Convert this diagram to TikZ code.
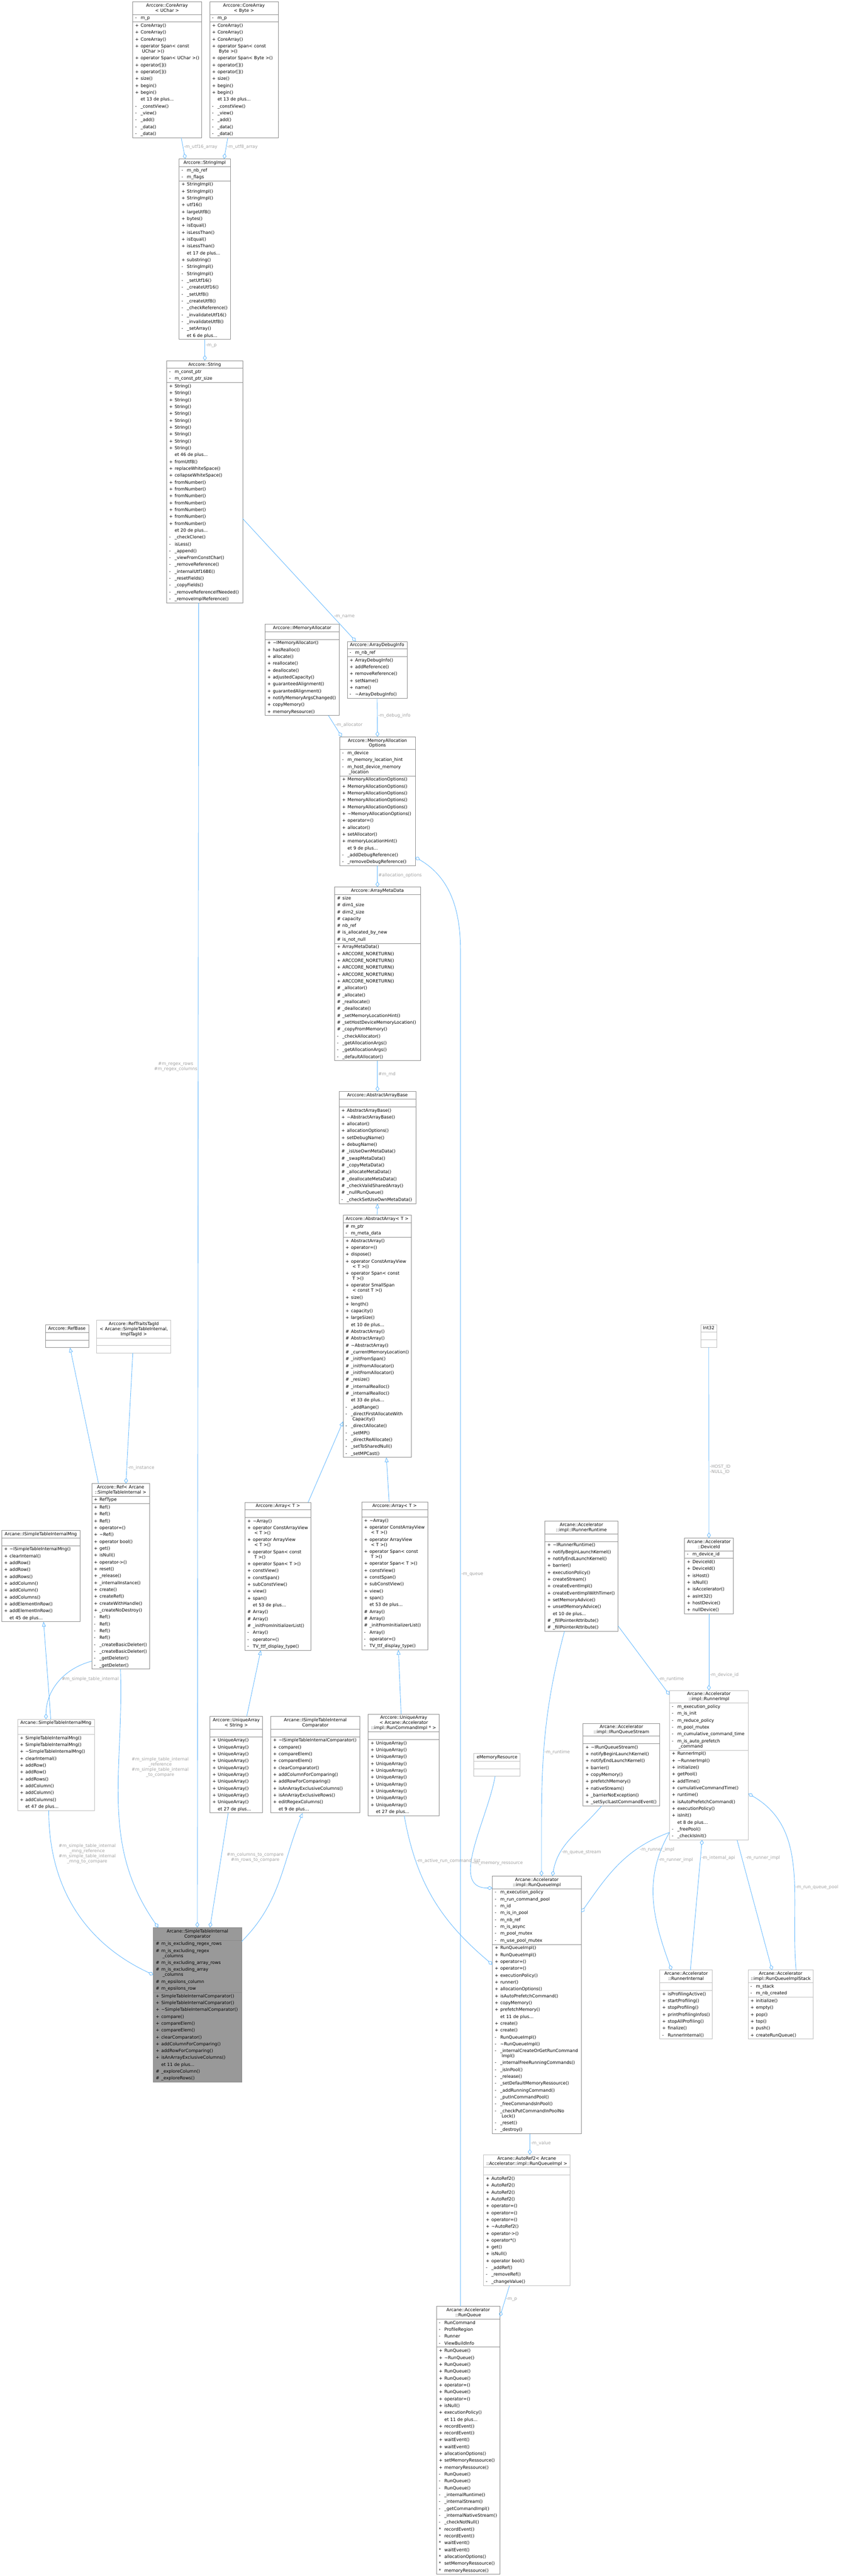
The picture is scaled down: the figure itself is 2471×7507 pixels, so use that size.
\documentclass[tikz,border=0pt]{standalone}
\usepackage{fontspec}
\setmainfont{DejaVu Sans}
\usetikzlibrary{positioning,fit,arrows.meta}
\definecolor{boxgray}{HTML}{8C8C8C}
\definecolor{boxlight}{HTML}{BFBFBF}
\definecolor{mainfill}{HTML}{999999}
\definecolor{edgeblue}{HTML}{63B8FF}
\definecolor{labelgray}{HTML}{A0A0A0}
\setlength{\parindent}{0pt}

\begin{document}
\catcode`\_=12
\begin{tikzpicture}[x=1pt,y=-1pt]
  \tikzset{
      box/.style={draw=boxgray,line width=1pt,text width=#1pt,inner xsep=0pt,
        inner ysep=1pt,outer sep=0pt,font=\fontsize{12.8}{20}\selectfont},
      dark/.style={},
      light/.style={draw=boxlight},
      main/.style={fill=mainfill},
      has/.style={draw=edgeblue,line width=1.3pt,-{Diamond[open,length=16pt,width=11pt]}},
      isa/.style={draw=edgeblue,line width=1.3pt,-{Triangle[open,length=14pt,width=11pt]}},
      lbl/.style={text=labelgray,font=\fontsize{12.8}{15}\selectfont,inner sep=2pt,align=center},
  }
  \def\Tl#1{\strut#1}
  \def\V#1#2{\makebox[23pt][l]{\hspace{7pt}#1}#2\strut}
  \def\Pub#1{\V{+}{#1}}
  \def\Pri#1{\V{-}{#1}}
  \def\Pro#1{\V{\#}{#1}}
  \def\Rel#1{\V{*}{#1}}
  \def\More#1{\V{}{#1}}
  \def\Cont#1{\hspace*{27pt}#1\strut}
  \def\umlbox#1#2#3#4#5#6#7#8{%
    \node[box=#4,#5,align=center,anchor=north west] (#1-t) at (#2,#3) {#6};
    \node[box=#4,#5,align=left,below=0pt of #1-t] (#1-a) {#7};
    \node[box=#4,#5,align=left,below=0pt of #1-a] (#1-m) {#8};
    \node[fit=(#1-t)(#1-m),inner sep=0pt,outer sep=0pt] (#1) {};}

  \useasboundingbox (0,0) rectangle (2471,7507);

  % string part
  \umlbox{coreU}{387}{5}{200}{dark}
    {\Tl{Arccore::CoreArray}\\[-5pt]\Tl{< UChar >}}
    {\Pri{m_p}}
    {\Pub{CoreArray()}\\\Pub{CoreArray()}\\\Pub{CoreArray()}\\\Pub{operator Span< const}\\[-5pt]\Cont{UChar >()}\\\Pub{operator Span< UChar >()}\\\Pub{operator[]()}\\\Pub{operator[]()}\\\Pub{size()}\\\Pub{begin()}\\\Pub{begin()}\\\More{et 13 de plus...}\\\Pri{_constView()}\\\Pri{_view()}\\\Pri{_add()}\\\Pri{_data()}\\\Pri{_data()}}
  \umlbox{coreB}{611}{5}{200}{dark}
    {\Tl{Arccore::CoreArray}\\[-5pt]\Tl{< Byte >}}
    {\Pri{m_p}}
    {\Pub{CoreArray()}\\\Pub{CoreArray()}\\\Pub{CoreArray()}\\\Pub{operator Span< const}\\[-5pt]\Cont{Byte >()}\\\Pub{operator Span< Byte >()}\\\Pub{operator[]()}\\\Pub{operator[]()}\\\Pub{size()}\\\Pub{begin()}\\\Pub{begin()}\\\More{et 13 de plus...}\\\Pri{_constView()}\\\Pri{_view()}\\\Pri{_add()}\\\Pri{_data()}\\\Pri{_data()}}
  \umlbox{strimpl}{522}{463}{149}{dark}
    {\Tl{Arccore::StringImpl}}
    {\Pri{m_nb_ref}\\\Pri{m_flags}}
    {\Pub{StringImpl()}\\\Pub{StringImpl()}\\\Pub{StringImpl()}\\\Pub{utf16()}\\\Pub{largeUtf8()}\\\Pub{bytes()}\\\Pub{isEqual()}\\\Pub{isLessThan()}\\\Pub{isEqual()}\\\Pub{isLessThan()}\\\More{et 17 de plus...}\\\Pub{substring()}\\\Pri{StringImpl()}\\\Pri{StringImpl()}\\\Pri{_setUtf16()}\\\Pri{_createUtf16()}\\\Pri{_setUtf8()}\\\Pri{_createUtf8()}\\\Pri{_checkReference()}\\\Pri{_invalidateUtf16()}\\\Pri{_invalidateUtf8()}\\\Pri{_setArray()}\\\More{et 6 de plus...}}
  \umlbox{string}{486}{1051}{221}{dark}
    {\Tl{Arccore::String}}
    {\Pri{m_const_ptr}\\\Pri{m_const_ptr_size}}
    {\Pub{String()}\\\Pub{String()}\\\Pub{String()}\\\Pub{String()}\\\Pub{String()}\\\Pub{String()}\\\Pub{String()}\\\Pub{String()}\\\Pub{String()}\\\Pub{String()}\\\More{et 46 de plus...}\\\Pub{fromUtf8()}\\\Pub{replaceWhiteSpace()}\\\Pub{collapseWhiteSpace()}\\\Pub{fromNumber()}\\\Pub{fromNumber()}\\\Pub{fromNumber()}\\\Pub{fromNumber()}\\\Pub{fromNumber()}\\\Pub{fromNumber()}\\\Pub{fromNumber()}\\\More{et 20 de plus...}\\\Pri{_checkClone()}\\\Pri{isLess()}\\\Pri{_append()}\\\Pri{_viewFromConstChar()}\\\Pri{_removeReference()}\\\Pri{_internalUtf16BE()}\\\Pri{_resetFields()}\\\Pri{_copyFields()}\\\Pri{_removeReferenceIfNeeded()}\\\Pri{_removeImplReference()}}

  % allocation part
  \umlbox{imem}{772}{1819}{217}{dark}
    {\Tl{Arccore::IMemoryAllocator}}
    {\strut}
    {\Pub{\textasciitilde IMemoryAllocator()}\\\Pub{hasRealloc()}\\\Pub{allocate()}\\\Pub{reallocate()}\\\Pub{deallocate()}\\\Pub{adjustedCapacity()}\\\Pub{guaranteedAlignment()}\\\Pub{guarantedAlignment()}\\\Pub{notifyMemoryArgsChanged()}\\\Pub{copyMemory()}\\\Pub{memoryResource()}}
  \umlbox{dbginfo}{1012}{1869}{174}{dark}
    {\Tl{Arccore::ArrayDebugInfo}}
    {\Pri{m_nb_ref}}
    {\Pub{ArrayDebugInfo()}\\\Pub{addReference()}\\\Pub{removeReference()}\\\Pub{setName()}\\\Pub{name()}\\\Pri{\textasciitilde ArrayDebugInfo()}}
  \umlbox{memopt}{990}{2147}{220}{dark}
    {\Tl{Arccore::MemoryAllocation}\\[-5pt]\Tl{Options}}
    {\Pri{m_device}\\\Pri{m_memory_location_hint}\\\Pri{m_host_device_memory}\\[-5pt]\Cont{_location}}
    {\Pub{MemoryAllocationOptions()}\\\Pub{MemoryAllocationOptions()}\\\Pub{MemoryAllocationOptions()}\\\Pub{MemoryAllocationOptions()}\\\Pub{MemoryAllocationOptions()}\\\Pub{\textasciitilde MemoryAllocationOptions()}\\\Pub{operator=()}\\\Pub{allocator()}\\\Pub{setAllocator()}\\\Pub{memoryLocationHint()}\\\More{et 9 de plus...}\\\Pri{_addDebugReference()}\\\Pri{_removeDebugReference()}}
  \umlbox{amd}{975}{2585}{250}{dark}
    {\Tl{Arccore::ArrayMetaData}}
    {\Pro{size}\\\Pro{dim1_size}\\\Pro{dim2_size}\\\Pro{capacity}\\\Pro{nb_ref}\\\Pro{is_allocated_by_new}\\\Pro{is_not_null}}
    {\Pub{ArrayMetaData()}\\\Pub{ARCCORE_NORETURN()}\\\Pub{ARCCORE_NORETURN()}\\\Pub{ARCCORE_NORETURN()}\\\Pub{ARCCORE_NORETURN()}\\\Pub{ARCCORE_NORETURN()}\\\Pro{_allocator()}\\\Pro{_allocate()}\\\Pro{_reallocate()}\\\Pro{_deallocate()}\\\Pro{_setMemoryLocationHint()}\\\Pro{_setHostDeviceMemoryLocation()}\\\Pro{_copyFromMemory()}\\\Pri{_checkAllocator()}\\\Pri{_getAllocationArgs()}\\\Pri{_getAllocationArgs()}\\\Pri{_defaultAllocator()}}
  \umlbox{aab}{988}{3181}{224}{dark}
    {\Tl{Arccore::AbstractArrayBase}}
    {\strut}
    {\Pub{AbstractArrayBase()}\\\Pub{\textasciitilde AbstractArrayBase()}\\\Pub{allocator()}\\\Pub{allocationOptions()}\\\Pub{setDebugName()}\\\Pub{debugName()}\\\Pro{_isUseOwnMetaData()}\\\Pro{_swapMetaData()}\\\Pro{_copyMetaData()}\\\Pro{_allocateMetaData()}\\\Pro{_deallocateMetaData()}\\\Pro{_checkValidSharedArray()}\\\Pro{_nullRunQueue()}\\\Pri{_checkSetUseOwnMetaData()}}
  \umlbox{aa}{1000}{3541}{198}{dark}
    {\Tl{Arccore::AbstractArray< T >}}
    {\Pro{m_ptr}\\\Pri{m_meta_data}}
    {\Pub{AbstractArray()}\\\Pub{operator=()}\\\Pub{dispose()}\\\Pub{operator ConstArrayView}\\[-5pt]\Cont{< T >()}\\\Pub{operator Span< const}\\[-5pt]\Cont{T >()}\\\Pub{operator SmallSpan}\\[-5pt]\Cont{< const T >()}\\\Pub{size()}\\\Pub{length()}\\\Pub{capacity()}\\\Pub{largeSize()}\\\More{et 10 de plus...}\\\Pro{AbstractArray()}\\\Pro{AbstractArray()}\\\Pro{\textasciitilde AbstractArray()}\\\Pro{_currentMemoryLocation()}\\\Pro{_initFromSpan()}\\\Pro{_initFromAllocator()}\\\Pro{_initFromAllocator()}\\\Pro{_resize()}\\\Pro{_internalRealloc()}\\\Pro{_internalRealloc()}\\\More{et 33 de plus...}\\\Pri{_addRange()}\\\Pri{_directFirstAllocateWith}\\[-5pt]\Cont{Capacity()}\\\Pri{_directAllocate()}\\\Pri{_setMP()}\\\Pri{_directReAllocate()}\\\Pri{_setToSharedNull()}\\\Pri{_setMPCast()}}
  \umlbox{arr1}{714}{4378}{192}{dark}
    {\Tl{Arccore::Array< T >}}
    {\strut}
    {\Pub{\textasciitilde Array()}\\\Pub{operator ConstArrayView}\\[-5pt]\Cont{< T >()}\\\Pub{operator ArrayView}\\[-5pt]\Cont{< T >()}\\\Pub{operator Span< const}\\[-5pt]\Cont{T >()}\\\Pub{operator Span< T >()}\\\Pub{constView()}\\\Pub{constSpan()}\\\Pub{subConstView()}\\\Pub{view()}\\\Pub{span()}\\\More{et 53 de plus...}\\\Pro{Array()}\\\Pro{Array()}\\\Pro{_initFromInitializerList()}\\\Pri{Array()}\\\Pri{operator=()}\\\Pri{TV_ttf_display_type()}}
  \umlbox{arr2}{1054}{4377}{192}{dark}
    {\Tl{Arccore::Array< T >}}
    {\strut}
    {\Pub{\textasciitilde Array()}\\\Pub{operator ConstArrayView}\\[-5pt]\Cont{< T >()}\\\Pub{operator ArrayView}\\[-5pt]\Cont{< T >()}\\\Pub{operator Span< const}\\[-5pt]\Cont{T >()}\\\Pub{operator Span< T >()}\\\Pub{constView()}\\\Pub{constSpan()}\\\Pub{subConstView()}\\\Pub{view()}\\\Pub{span()}\\\More{et 53 de plus...}\\\Pro{Array()}\\\Pro{Array()}\\\Pro{_initFromInitializerList()}\\\Pri{Array()}\\\Pri{operator=()}\\\Pri{TV_ttf_display_type()}}
  \umlbox{uaS}{612}{5002}{153}{dark}
    {\Tl{Arccore::UniqueArray}\\[-5pt]\Tl{< String >}}
    {\strut}
    {\Pub{UniqueArray()}\\\Pub{UniqueArray()}\\\Pub{UniqueArray()}\\\Pub{UniqueArray()}\\\Pub{UniqueArray()}\\\Pub{UniqueArray()}\\\Pub{UniqueArray()}\\\Pub{UniqueArray()}\\\Pub{UniqueArray()}\\\Pub{UniqueArray()}\\\More{et 27 de plus...}}
  \umlbox{uaR}{1073}{4995}{207}{dark}
    {\Tl{Arccore::UniqueArray}\\[-5pt]\Tl{< Arcane::Accelerator}\\[-5pt]\Tl{::impl::RunCommandImpl * >}}
    {\strut}
    {\Pub{UniqueArray()}\\\Pub{UniqueArray()}\\\Pub{UniqueArray()}\\\Pub{UniqueArray()}\\\Pub{UniqueArray()}\\\Pub{UniqueArray()}\\\Pub{UniqueArray()}\\\Pub{UniqueArray()}\\\Pub{UniqueArray()}\\\Pub{UniqueArray()}\\\More{et 27 de plus...}}

  % simple table part
  \umlbox{refbase}{132}{3861}{126}{dark}
    {\Tl{Arccore::RefBase}}
    {\strut}
    {\strut}
  \umlbox{reftraits}{282}{3847}{216}{light}
    {\Tl{Arccore::RefTraitsTagId}\\[-5pt]\Tl{< Arcane::SimpleTableInternal,}\\[-5pt]\Tl{ImplTagId >}}
    {\strut}
    {\strut}
  \umlbox{ref}{267}{4323}{169}{dark}
    {\Tl{Arccore::Ref< Arcane}\\[-5pt]\Tl{::SimpleTableInternal >}}
    {\Pub{RefType}}
    {\Pub{Ref()}\\\Pub{Ref()}\\\Pub{Ref()}\\\Pub{operator=()}\\\Pub{\textasciitilde Ref()}\\\Pub{operator bool()}\\\Pub{get()}\\\Pub{isNull()}\\\Pub{operator->()}\\\Pub{reset()}\\\Pub{_release()}\\\Pub{_internalInstance()}\\\Pub{create()}\\\Pub{createRef()}\\\Pub{createWithHandle()}\\\Pub{_createNoDestroy()}\\\Pri{Ref()}\\\Pri{Ref()}\\\Pri{Ref()}\\\Pri{Ref()}\\\Pri{_createBasicDeleter()}\\\Pri{_createBasicDeleter()}\\\Pri{_getDeleter()}\\\Pri{_getDeleter()}}
  \umlbox{istim}{5}{4460}{228}{dark}
    {\Tl{Arcane::ISimpleTableInternalMng}}
    {\strut}
    {\Pub{\textasciitilde ISimpleTableInternalMng()}\\\Pub{clearInternal()}\\\Pub{addRow()}\\\Pub{addRow()}\\\Pub{addRows()}\\\Pub{addColumn()}\\\Pub{addColumn()}\\\Pub{addColumns()}\\\Pub{addElementInRow()}\\\Pub{addElementInRow()}\\\More{et 45 de plus...}}
  \umlbox{stim}{51}{5010}{224}{light}
    {\Tl{Arcane::SimpleTableInternalMng}}
    {\strut}
    {\Pub{SimpleTableInternalMng()}\\\Pub{SimpleTableInternalMng()}\\\Pub{\textasciitilde SimpleTableInternalMng()}\\\Pub{clearInternal()}\\\Pub{addRow()}\\\Pub{addRow()}\\\Pub{addRows()}\\\Pub{addColumn()}\\\Pub{addColumn()}\\\Pub{addColumns()}\\\More{et 47 de plus...}}
  \umlbox{istic}{789}{5002}{260}{dark}
    {\Tl{Arcane::ISimpleTableInternal}\\[-5pt]\Tl{Comparator}}
    {\strut}
    {\Pub{\textasciitilde ISimpleTableInternalComparator()}\\\Pub{compare()}\\\Pub{compareElem()}\\\Pub{compareElem()}\\\Pub{clearComparator()}\\\Pub{addColumnForComparing()}\\\Pub{addRowForComparing()}\\\Pub{isAnArrayExclusiveColumns()}\\\Pub{isAnArrayExclusiveRows()}\\\Pub{editRegexColumns()}\\\More{et 9 de plus...}}
  \umlbox{grey}{447}{5617}{257}{main}
    {\Tl{Arcane::SimpleTableInternal}\\[-5pt]\Tl{Comparator}}
    {\Pro{m_is_excluding_regex_rows}\\\Pro{m_is_excluding_regex}\\[-5pt]\Cont{_columns}\\\Pro{m_is_excluding_array_rows}\\\Pro{m_is_excluding_array}\\[-5pt]\Cont{_columns}\\\Pro{m_epsilons_column}\\\Pro{m_epsilons_row}}
    {\Pub{SimpleTableInternalComparator()}\\\Pub{SimpleTableInternalComparator()}\\\Pub{\textasciitilde SimpleTableInternalComparator()}\\\Pub{compare()}\\\Pub{compareElem()}\\\Pub{compareElem()}\\\Pub{clearComparator()}\\\Pub{addColumnForComparing()}\\\Pub{addRowForComparing()}\\\Pub{isAnArrayExclusiveColumns()}\\\More{et 11 de plus...}\\\Pro{_exploreColumn()}\\\Pro{_exploreRows()}}

  % accelerator part
  \umlbox{int32}{2042}{3860}{47}{light}
    {\Tl{Int32}}
    {\strut}
    {\strut}
  \umlbox{irr}{1588}{4433}{213}{dark}
    {\Tl{Arcane::Accelerator}\\[-5pt]\Tl{::impl::IRunnerRuntime}}
    {\strut}
    {\Pub{\textasciitilde IRunnerRuntime()}\\\Pub{notifyBeginLaunchKernel()}\\\Pub{notifyEndLaunchKernel()}\\\Pub{barrier()}\\\Pub{executionPolicy()}\\\Pub{createStream()}\\\Pub{createEventImpl()}\\\Pub{createEventImplWithTimer()}\\\Pub{setMemoryAdvice()}\\\Pub{unsetMemoryAdvice()}\\\More{et 10 de plus...}\\\Pro{_fillPointerAttribute()}\\\Pro{_fillPointerAttribute()}}
  \umlbox{devid}{1995}{4482}{142}{dark}
    {\Tl{Arcane::Accelerator}\\[-5pt]\Tl{::DeviceId}}
    {\Pri{m_device_id}}
    {\Pub{DeviceId()}\\\Pub{DeviceId()}\\\Pub{isHost()}\\\Pub{isNull()}\\\Pub{isAccelerator()}\\\Pub{asInt32()}\\\Pub{hostDevice()}\\\Pub{nullDevice()}}
  \umlbox{rimpl}{1951}{4926}{230}{light}
    {\Tl{Arcane::Accelerator}\\[-5pt]\Tl{::impl::RunnerImpl}}
    {\Pri{m_execution_policy}\\\Pri{m_is_init}\\\Pri{m_reduce_policy}\\\Pri{m_pool_mutex}\\\Pri{m_cumulative_command_time}\\\Pri{m_is_auto_prefetch}\\[-5pt]\Cont{_command}}
    {\Pub{RunnerImpl()}\\\Pub{\textasciitilde RunnerImpl()}\\\Pub{initialize()}\\\Pub{getPool()}\\\Pub{addTime()}\\\Pub{cumulativeCommandTime()}\\\Pub{runtime()}\\\Pub{isAutoPrefetchCommand()}\\\Pub{executionPolicy()}\\\Pub{isInit()}\\\More{et 8 de plus...}\\\Pri{_freePool()}\\\Pri{_checkIsInit()}}
  \umlbox{irqs}{1699}{5022}{224}{dark}
    {\Tl{Arcane::Accelerator}\\[-5pt]\Tl{::impl::IRunQueueStream}}
    {\strut}
    {\Pub{\textasciitilde IRunQueueStream()}\\\Pub{notifyBeginLaunchKernel()}\\\Pub{notifyEndLaunchKernel()}\\\Pub{barrier()}\\\Pub{copyMemory()}\\\Pub{prefetchMemory()}\\\Pub{nativeStream()}\\\Pub{_barrierNoException()}\\\Pub{_setSyclLastCommandEvent()}}
  \umlbox{emr}{1381}{5110}{135}{light}
    {\Tl{eMemoryResource}}
    {\strut}
    {\strut}
  \umlbox{rqimpl}{1435}{5467}{259}{dark}
    {\Tl{Arcane::Accelerator}\\[-5pt]\Tl{::impl::RunQueueImpl}}
    {\Pri{m_execution_policy}\\\Pri{m_run_command_pool}\\\Pri{m_id}\\\Pri{m_is_in_pool}\\\Pri{m_nb_ref}\\\Pri{m_is_async}\\\Pri{m_pool_mutex}\\\Pri{m_use_pool_mutex}}
    {\Pub{RunQueueImpl()}\\\Pub{RunQueueImpl()}\\\Pub{operator=()}\\\Pub{operator=()}\\\Pub{executionPolicy()}\\\Pub{runner()}\\\Pub{allocationOptions()}\\\Pub{isAutoPrefetchCommand()}\\\Pub{copyMemory()}\\\Pub{prefetchMemory()}\\\More{et 11 de plus...}\\\Pub{create()}\\\Pub{create()}\\\Pri{RunQueueImpl()}\\\Pri{\textasciitilde RunQueueImpl()}\\\Pri{_internalCreateOrGetRunCommand}\\[-5pt]\Cont{Impl()}\\\Pri{_internalFreeRunningCommands()}\\\Pri{_isInPool()}\\\Pri{_release()}\\\Pri{_setDefaultMemoryRessource()}\\\Pri{_addRunningCommand()}\\\Pri{_putInCommandPool()}\\\Pri{_freeCommandsInPool()}\\\Pri{_checkPutCommandInPoolNo}\\[-5pt]\Cont{Lock()}\\\Pri{_reset()}\\\Pri{_destroy()}}
  \umlbox{rint}{1923}{5741}{153}{light}
    {\Tl{Arcane::Accelerator}\\[-5pt]\Tl{::RunnerInternal}}
    {\strut}
    {\Pub{isProfilingActive()}\\\Pub{startProfiling()}\\\Pub{stopProfiling()}\\\Pub{printProfilingInfos()}\\\Pub{stopAllProfiling()}\\\Pub{finalize()}\\\Pri{RunnerInternal()}}
  \umlbox{rqstack}{2180}{5741}{190}{light}
    {\Tl{Arcane::Accelerator}\\[-5pt]\Tl{::impl::RunQueueImplStack}}
    {\Pri{m_stack}\\\Pri{m_nb_created}}
    {\Pub{initialize()}\\\Pub{empty()}\\\Pub{pop()}\\\Pub{top()}\\\Pub{push()}\\\Pub{createRunQueue()}}
  \umlbox{autoref}{1409}{6279}{252}{light}
    {\Tl{Arcane::AutoRef2< Arcane}\\[-5pt]\Tl{::Accelerator::impl::RunQueueImpl >}}
    {\strut}
    {\Pub{AutoRef2()}\\\Pub{AutoRef2()}\\\Pub{AutoRef2()}\\\Pub{AutoRef2()}\\\Pub{operator=()}\\\Pub{operator=()}\\\Pub{operator=()}\\\Pub{\textasciitilde AutoRef2()}\\\Pub{operator->()}\\\Pub{operator*()}\\\Pub{get()}\\\Pub{isNull()}\\\Pub{operator bool()}\\\Pri{_addRef()}\\\Pri{_removeRef()}\\\Pri{_changeValue()}}
  \umlbox{rq}{1272}{6721}{185}{dark}
    {\Tl{Arcane::Accelerator}\\[-5pt]\Tl{::RunQueue}}
    {\Pri{RunCommand}\\\Pri{ProfileRegion}\\\Pri{Runner}\\\Pri{ViewBuildInfo}}
    {\Pub{RunQueue()}\\\Pub{\textasciitilde RunQueue()}\\\Pub{RunQueue()}\\\Pub{RunQueue()}\\\Pub{RunQueue()}\\\Pub{operator=()}\\\Pub{RunQueue()}\\\Pub{operator=()}\\\Pub{isNull()}\\\Pub{executionPolicy()}\\\More{et 11 de plus...}\\\Pub{recordEvent()}\\\Pub{recordEvent()}\\\Pub{waitEvent()}\\\Pub{waitEvent()}\\\Pub{allocationOptions()}\\\Pub{setMemoryRessource()}\\\Pub{memoryRessource()}\\\Pri{RunQueue()}\\\Pri{RunQueue()}\\\Pri{RunQueue()}\\\Pri{_internalRuntime()}\\\Pri{_internalStream()}\\\Pri{_getCommandImpl()}\\\Pri{_internalNativeStream()}\\\Pri{_checkNotNull()}\\\Rel{recordEvent()}\\\Rel{recordEvent()}\\\Rel{waitEvent()}\\\Rel{waitEvent()}\\\Rel{allocationOptions()}\\\Rel{setMemoryRessource()}\\\Rel{memoryRessource()}}

  % string links
  \draw[has] ([xshift=141pt]coreU.south west) -- node[lbl,right,pos=0.45]{-m_utf16_array} ([xshift=18pt]strimpl.north west);
  \draw[has] ([xshift=53pt]coreB.south west) -- node[lbl,right,pos=0.45]{-m_utf8_array} ([xshift=131pt]strimpl.north west);
  \draw[has] ([xshift=75pt]strimpl.south west) -- node[lbl,right,pos=0.3]{-m_p} ([xshift=111pt]string.north west);
  \draw[has] ([yshift=-460pt]string.north east) -- node[lbl,right,pos=0.8]{-m_name} ([xshift=25pt]dbginfo.north west);

  % allocation links
  \draw[has] ([xshift=185pt]imem.south west) -- node[lbl,right,pos=0.45]{-m_allocator} ([xshift=6pt]memopt.north west);
  \draw[has] (dbginfo.south) -- node[lbl,right,pos=0.45]{-m_debug_info} (memopt.north);
  \draw[has] (memopt.south) -- node[lbl,right,pos=0.45]{\#allocation_options} (amd.north);
  \draw[has] (amd.south) -- node[lbl,right,pos=0.45]{\#m_md} (aab.north);
  \draw[isa] (aa.north) -- (aab.south);
  \draw[isa] ([xshift=184pt]arr1.north west) -- ([yshift=105pt]aa.south west);
  \draw[isa] ([xshift=80pt]arr2.north west) -- ([xshift=126pt]aa.south west);
  \draw[isa] ([xshift=107pt]uaS.north west) -- ([xshift=46pt]arr1.south west);
  \draw[isa] ([xshift=96pt]uaR.north west) -- ([xshift=107pt]arr2.south west);
  \draw[has] ([xshift=70pt]rq.north west) -- node[lbl,anchor=west,pos=0.54]{-m_queue} ++(0,-3950)
    to[out=90,in=-30] ([yshift=25pt]memopt.south east);

  % simple table links
  \draw[isa] ([xshift=20pt]ref.north west) -- ([xshift=72pt]refbase.south west);
  \draw[has] ([xshift=105pt]reftraits.south west) -- node[lbl,right,pos=0.88]{-m_instance} ([xshift=100pt]ref.north west);
  \draw[isa] ([xshift=97pt]stim.north west) -- ([xshift=122pt]istim.south west);
  \draw[has] ([yshift=-518pt]ref.north west) to[out=195,in=90]
    node[lbl,anchor=west,pos=0.45]{\#m_simple_table_internal} ([xshift=83pt]stim.north west);
  \draw[has] ([xshift=84pt]ref.south west) to[out=-88,in=125]
    node[lbl,anchor=west,pos=0.35,xshift=35pt]{\#m_simple_table_internal\\_reference\\\#m_simple_table_internal\\_to_compare}
    ([xshift=14pt]grey.north west);
  \draw[has] ([xshift=93pt]string.south west) -- node[lbl,left,pos=0.35]{\#m_regex_rows\\\#m_regex_columns} ([xshift=128pt]grey.north west);
  \draw[has] ([xshift=91pt]stim.south west) to[out=-90,in=155]
    node[lbl,anchor=west,pos=0.2,xshift=14pt]{\#m_simple_table_internal\\_mng_reference\\\#m_simple_table_internal\\_mng_to_compare}
    ([yshift=-138pt]grey.north west);
  \draw[has] ([xshift=53pt]uaS.south west) -- node[lbl,anchor=west,pos=0.39,xshift=14pt]{\#m_columns_to_compare\\\#m_rows_to_compare} ([xshift=165pt]grey.north west);
  \draw[isa] ([yshift=-41pt]grey.north east) to[out=45,in=-112] ([xshift=93pt]istic.south west);

  % accelerator links
  \draw[has] (int32.south) -- node[lbl,anchor=west,pos=0.64,align=left]{-HOST_ID\\-NULL_ID} (devid.north);
  \draw[has] (devid.south) -- node[lbl,right,pos=0.8]{-m_device_id} (rimpl.north);
  \draw[has] ([yshift=-305pt]irr.north east) -- node[lbl,anchor=west,pos=0.77]{-m_runtime} ([yshift=-13pt]rimpl.north west);
  \draw[has] ([xshift=57pt]irr.south west) to[out=-105,in=90] node[lbl,anchor=west,pos=0.5]{-m_runtime} ([xshift=143pt]rqimpl.north west);
  \draw[has] ([xshift=54pt]irqs.south west) to[out=-130,in=80] node[lbl,anchor=west,pos=0.72]{-m_queue_stream} ([xshift=175pt]rqimpl.north west);
  \draw[has] ([xshift=62pt]emr.south west) to[out=-100,in=180] node[lbl,anchor=west,pos=0.62]{-m_memory_ressource} ([yshift=-35pt]rqimpl.north west);
  \draw[has] ([xshift=105pt]uaR.south west) to[out=-80,in=140] node[lbl,anchor=west,pos=0.25]{-m_active_run_command_list} ([yshift=-258pt]rqimpl.north west);
  \draw[has] ([yshift=22pt]rimpl.south west) to[out=200,in=55] node[lbl,anchor=west,pos=0.3,xshift=8pt]{-m_runner_impl} ([yshift=-106pt]rqimpl.north east);
  \draw[has] ([yshift=22pt]rimpl.south west) to[out=240,in=110] node[lbl,anchor=west,pos=0.2]{-m_runner_impl} ([xshift=34pt]rint.north west);
  \draw[has] ([xshift=89pt]rint.north west) -- node[lbl,anchor=west,pos=0.86]{-m_internal_api} ([xshift=95pt]rimpl.south west);
  \draw[has] ([xshift=197pt]rimpl.south west) -- node[lbl,anchor=west,pos=0.14,xshift=8pt]{-m_runner_impl} ([xshift=70pt]rqstack.north west);
  \draw[has] ([xshift=140pt]rqstack.north west) to[out=95,in=-30] node[lbl,anchor=west,pos=0.4]{-m_run_queue_pool} ([yshift=-301pt]rimpl.north east);
  \draw[has] ([xshift=109pt]rqimpl.south west) -- node[lbl,right,pos=0.45]{-m_value} ([xshift=135pt]autoref.north west);
  \draw[has] ([xshift=76pt]autoref.south west) -- node[lbl,right,pos=0.45]{-m_p} ([yshift=-30pt]rq.north east);
\end{tikzpicture}
\end{document}
